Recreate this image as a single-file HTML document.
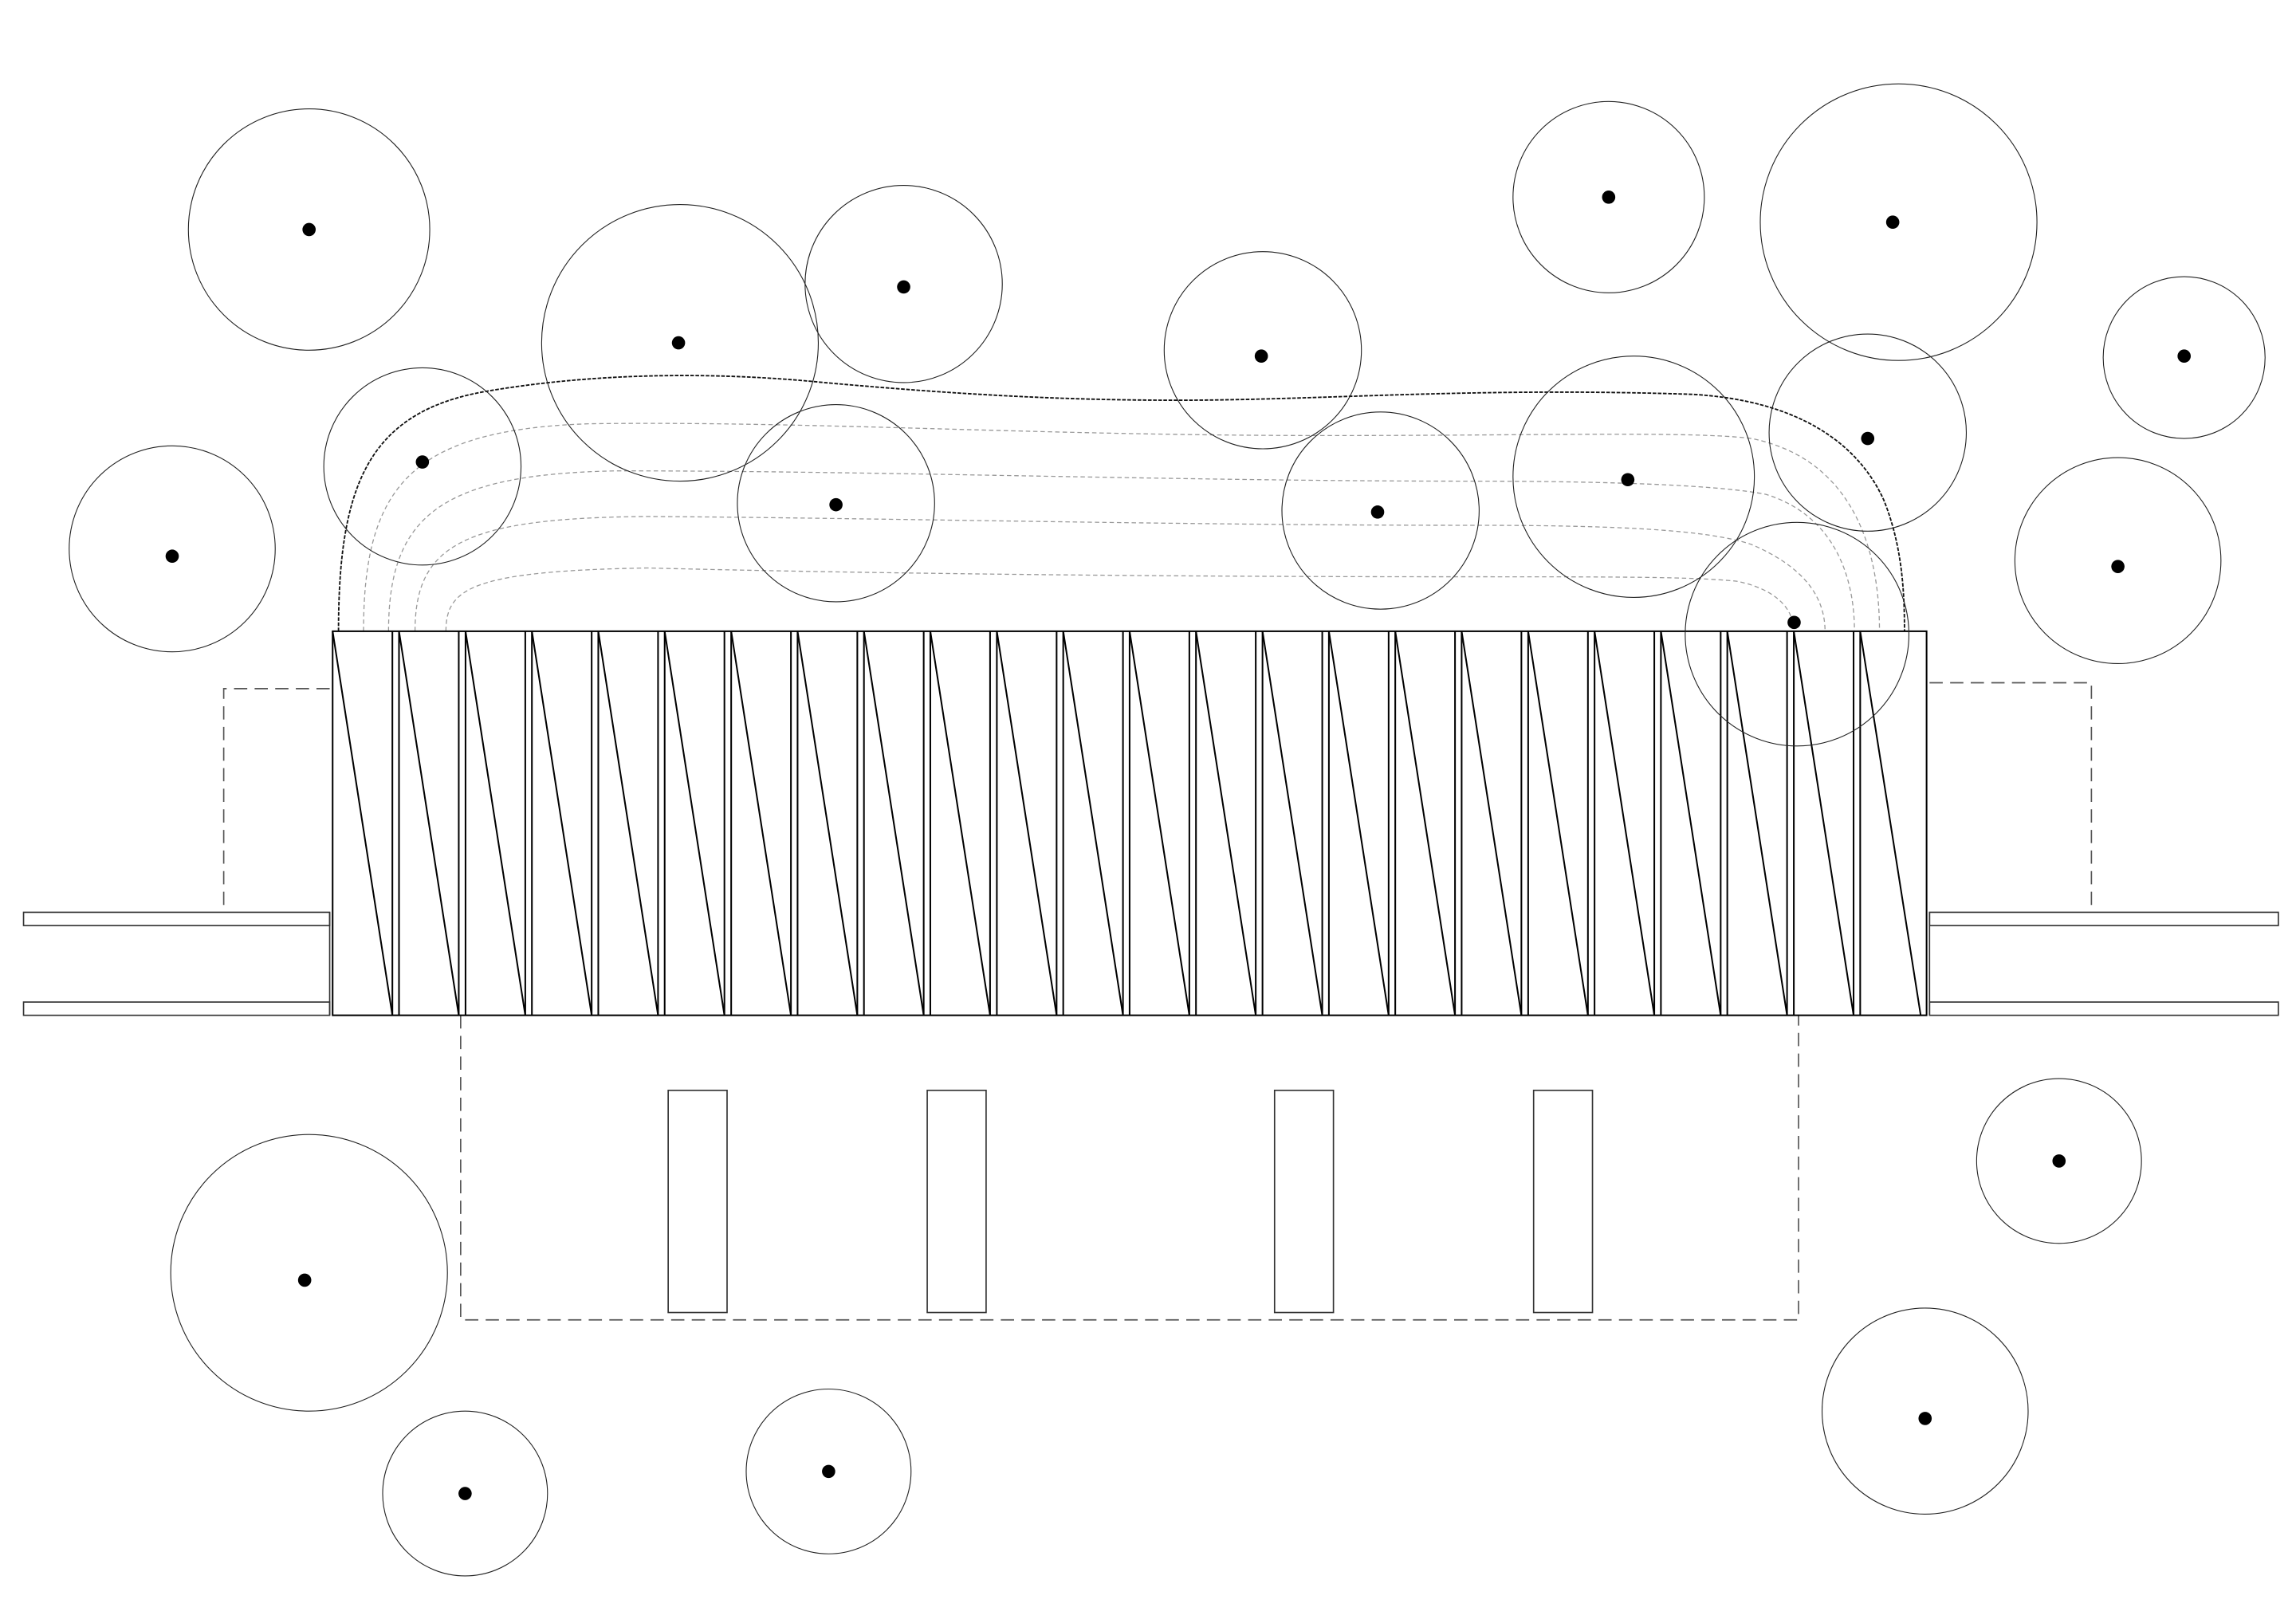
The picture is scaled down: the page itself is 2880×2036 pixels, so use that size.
<!DOCTYPE html>
<html><head><meta charset="utf-8"><style>html,body{margin:0;padding:0;background:#fff}svg{display:block}</style></head>
<body>
<svg width="2880" height="2036" viewBox="0 0 1560 1103" preserveAspectRatio="none" xmlns="http://www.w3.org/2000/svg">
<rect width="1560" height="1103" fill="#fff"/>
<!-- guide curves -->
<g fill="none" stroke="#999" stroke-width="0.7" stroke-dasharray="3 2">
<path d="M247,429 C247,330 280,292 400,288 C550,286 700,296 900,296 C1050,296 1150,293 1190,298 C1250,310 1277,360 1277,429"/>
<path d="M264,429 C264,350 300,322 420,320 C600,320 800,327 1000,327 C1100,327 1170,330 1200,336 C1245,350 1260,390 1260,429"/>
<path d="M282,429 C282,370 315,352 440,351 C600,352 800,357 1000,357 C1100,357 1160,360 1190,370 C1225,385 1240,405 1240,429"/>
<path d="M303,429 C303,400 320,388 440,386 C600,390 800,392 1000,392 C1100,392 1150,392 1180,395 C1205,400 1216,412 1218,423"/>
</g>
<path d="M230,429 C230,330 250,280 330,266 C400,254 480,252 560,260 C650,268 720,272 800,272 C900,272 1000,263 1150,268 C1220,272 1262,300 1280,340 C1292,370 1294,400 1294,429" fill="none" stroke="#111" stroke-width="1" stroke-dasharray="2.5 1"/>
<!-- side elements -->
<g fill="none" stroke="#333" stroke-width="0.9">
<rect x="16" y="620" width="208" height="9"/>
<rect x="16" y="681" width="208" height="9"/>
<line x1="224" y1="620" x2="224" y2="690"/>
<rect x="1311" y="620" width="237" height="9"/>
<rect x="1311" y="681" width="237" height="9"/>
<line x1="1311" y1="620" x2="1311" y2="690"/>
<rect x="454" y="741" width="40" height="151"/>
<rect x="630" y="741" width="40" height="151"/>
<rect x="866" y="741" width="40" height="151"/>
<rect x="1042" y="741" width="40" height="151"/>
</g>
<g fill="none" stroke="#555" stroke-width="0.9" stroke-dasharray="9 5">
<polyline points="224,468 152,468 152,620"/>
<polyline points="1311,464 1421,464 1421,620"/>
<polyline points="313,690 313,897 1222,897 1222,690"/>
</g>
<!-- building -->
<g fill="none" stroke="#000" stroke-width="1.1">
<rect x="226" y="429" width="1083" height="261"/>
<path d="M226,429L266.6,690 M271.1,429L311.7,690 M316.3,429L356.9,690 M361.4,429L402,690 M406.5,429L447.1,690 M451.6,429L492.2,690 M496.8,429L537.4,690 M541.9,429L582.5,690 M587,429L627.6,690 M632.1,429L672.7,690 M677.3,429L717.9,690 M722.4,429L763,690 M767.5,429L808.1,690 M812.6,429L853.2,690 M857.8,429L898.4,690 M902.9,429L943.5,690 M948,429L988.6,690 M993.1,429L1033.7,690 M1038.3,429L1078.9,690 M1083.4,429L1124,690 M1128.5,429L1169.1,690 M1173.6,429L1214.2,690 M1218.8,429L1259.4,690 M1263.9,429L1305,690"/>
<path d="M266.6,429V690 M271.1,429V690 M311.7,429V690 M316.3,429V690 M356.9,429V690 M361.4,429V690 M402,429V690 M406.5,429V690 M447.1,429V690 M451.6,429V690 M492.2,429V690 M496.8,429V690 M537.4,429V690 M541.9,429V690 M582.5,429V690 M587,429V690 M627.6,429V690 M632.1,429V690 M672.7,429V690 M677.3,429V690 M717.9,429V690 M722.4,429V690 M763,429V690 M767.5,429V690 M808.1,429V690 M812.6,429V690 M853.2,429V690 M857.8,429V690 M898.4,429V690 M902.9,429V690 M943.5,429V690 M948,429V690 M988.6,429V690 M993.1,429V690 M1033.7,429V690 M1038.3,429V690 M1078.9,429V690 M1083.4,429V690 M1124,429V690 M1128.5,429V690 M1169.1,429V690 M1173.6,429V690 M1214.2,429V690 M1218.8,429V690 M1259.4,429V690 M1263.9,429V690"/>
</g>
<!-- trees -->
<g fill="none" stroke="#222" stroke-width="0.6">
<circle cx="210" cy="156" r="82"/>
<circle cx="117" cy="373" r="70"/>
<circle cx="287" cy="317" r="67"/>
<circle cx="462" cy="233" r="94"/>
<circle cx="614" cy="193" r="67"/>
<circle cx="568" cy="342" r="67"/>
<circle cx="858" cy="238" r="67"/>
<circle cx="938" cy="347" r="67"/>
<circle cx="1093" cy="134" r="65"/>
<circle cx="1110" cy="324" r="82"/>
<circle cx="1290" cy="151" r="94"/>
<circle cx="1269" cy="294" r="67"/>
<circle cx="1484" cy="243" r="55"/>
<circle cx="1439" cy="381" r="70"/>
<circle cx="1221" cy="431" r="76"/>
<circle cx="1399" cy="789" r="56"/>
<circle cx="1308" cy="959" r="70"/>
<circle cx="210" cy="865" r="94"/>
<circle cx="316" cy="1015" r="56"/>
<circle cx="563" cy="1000" r="56"/>
</g>
<g fill="#000">
<circle cx="210" cy="156" r="4.5"/>
<circle cx="117" cy="378" r="4.5"/>
<circle cx="287" cy="314" r="4.5"/>
<circle cx="461" cy="233" r="4.5"/>
<circle cx="614" cy="195" r="4.5"/>
<circle cx="568" cy="343" r="4.5"/>
<circle cx="857" cy="242" r="4.5"/>
<circle cx="936" cy="348" r="4.5"/>
<circle cx="1093" cy="134" r="4.5"/>
<circle cx="1106" cy="326" r="4.5"/>
<circle cx="1286" cy="151" r="4.5"/>
<circle cx="1269" cy="298" r="4.5"/>
<circle cx="1484" cy="242" r="4.5"/>
<circle cx="1439" cy="385" r="4.5"/>
<circle cx="1219" cy="423" r="4.5"/>
<circle cx="1399" cy="789" r="4.5"/>
<circle cx="1308" cy="964" r="4.5"/>
<circle cx="207" cy="870" r="4.5"/>
<circle cx="316" cy="1015" r="4.5"/>
<circle cx="563" cy="1000" r="4.5"/>
</g>
</svg>
</body></html>
